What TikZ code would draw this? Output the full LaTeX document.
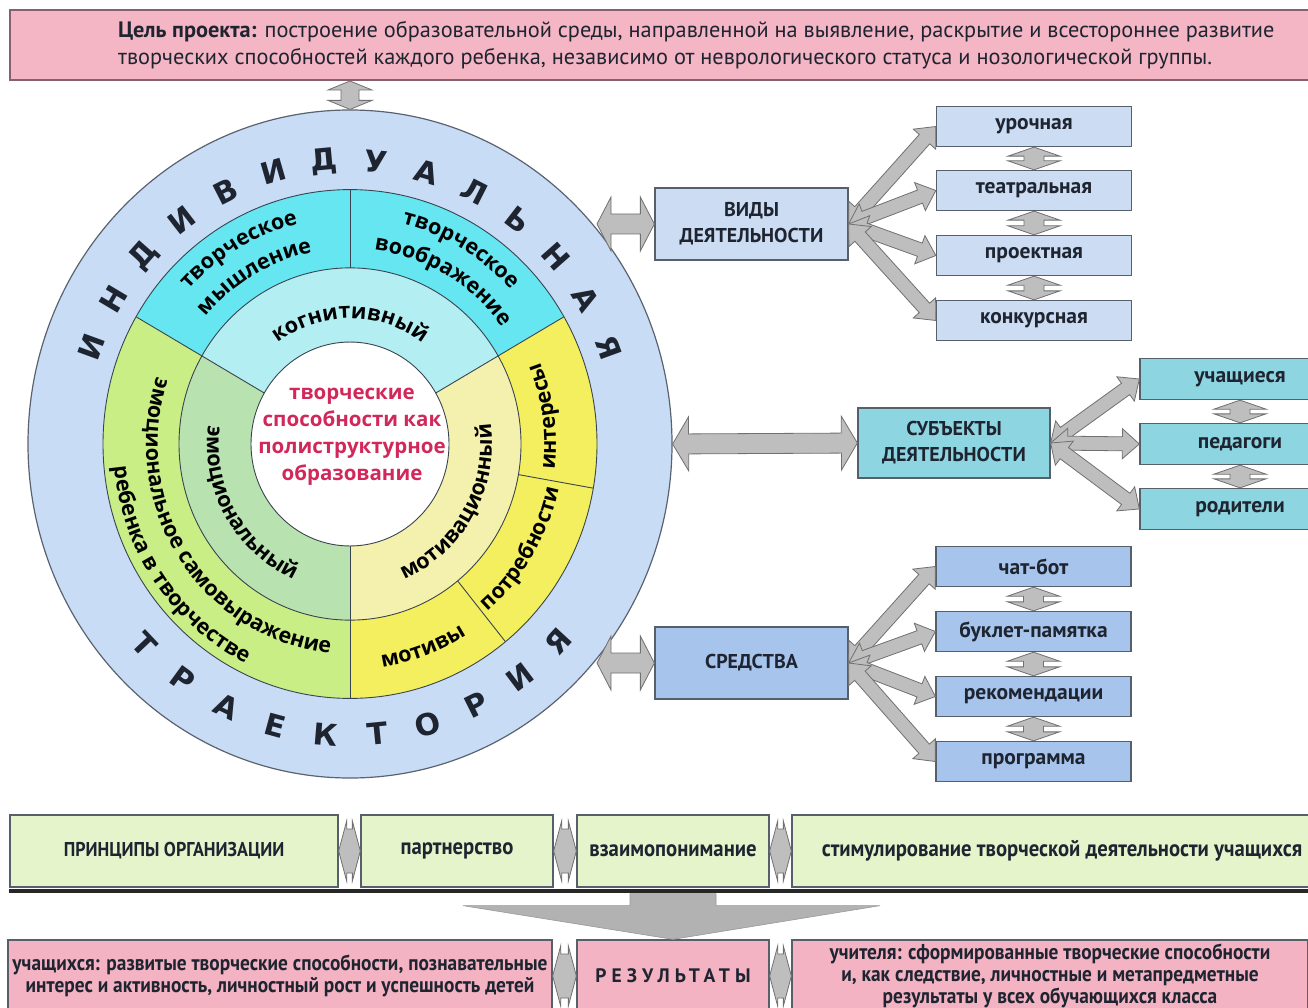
\documentclass[tikz,border=0pt]{standalone}
\usepackage{fontspec}
\setmainfont{PT Sans}
\newfontfamily\ptsans{PT Sans}
\newfontfamily\ptcond{PT Sans}[FakeStretch=0.9]
\newfontfamily\ptspaced{PT Sans}[LetterSpace=26]
\newfontfamily\osans{Open Sans}
\newfontfamily\djv{DejaVu Sans}
\usetikzlibrary{calc,shapes.geometric,decorations.text}
\definecolor{outerblue}{HTML}{C8DDF5}
\definecolor{cyanO}{HTML}{66E6F0}
\definecolor{cyanI}{HTML}{B3EEF3}
\definecolor{greenO}{HTML}{C9EE86}
\definecolor{greenI}{HTML}{B8E3B0}
\definecolor{yelO}{HTML}{F4EF5E}
\definecolor{yelI}{HTML}{F4F1AE}
\definecolor{ringedge}{HTML}{3A4450}
\definecolor{circedge}{HTML}{5A6270}
\definecolor{vidfill}{HTML}{CCDCF3}
\definecolor{subjfill}{HTML}{8ED5E2}
\definecolor{sredfill}{HTML}{A6C4EC}
\definecolor{princfill}{HTML}{E6F4CB}
\definecolor{pinkfill}{HTML}{F3B3C3}
\definecolor{banfill}{HTML}{F4B5C4}
\definecolor{banedge}{HTML}{86606B}
\definecolor{boxedge}{HTML}{56606B}
\definecolor{arrfill}{HTML}{BEBEBE}
\definecolor{arredge}{HTML}{707070}
\definecolor{txt}{HTML}{1E2430}
\definecolor{coretxt}{HTML}{D2275A}
\tikzset{
  arr/.style={fill=arrfill, draw=arredge, line width=0.8pt, line join=miter},
  box/.style={draw=boxedge, line width=1.3pt, inner sep=0pt, align=center, text=txt},
  mainbox/.style={box, minimum width=193pt, minimum height=72pt, font=\ptsans\bfseries\fontsize{20}{26}\selectfont},
  subbox/.style={box, minimum width=195pt, minimum height=40pt, font=\ptsans\bfseries\fontsize{21.5}{22}\selectfont},
  rowbox/.style={box, fill=princfill, minimum height=72pt, font=\ptcond\bfseries\fontsize{23}{24}\selectfont},
  resbox/.style={box, fill=pinkfill, minimum height=72pt, font=\ptcond\bfseries\fontsize{21.5}{22}\selectfont},
  ring/.style={draw=ringedge, line width=0.9pt},
  bigl/.style={font=\djv\bfseries\fontsize{30}{30}\selectfont, text=txt, inner sep=0pt},
  arctext/.style={decorate, decoration={text along path, text align=center, text={#1}}}
}
\newcommand\dblarr[5]{%
  \path (#1) coordinate (dA) (#2) coordinate (dB);
  \path ($(dA)!#3!(dB)$) coordinate (dA1) ($(dB)!#3!(dA)$) coordinate (dB1);
  \filldraw[arr] (dA) -- ($(dA1)!#4!90:(dB)$) -- ($(dA1)!#5!90:(dB)$)
    -- ($(dB1)!#5!-90:(dA)$) -- ($(dB1)!#4!-90:(dA)$) -- (dB)
    -- ($(dB1)!#4!90:(dA)$) -- ($(dB1)!#5!90:(dA)$)
    -- ($(dA1)!#5!-90:(dB)$) -- ($(dA1)!#4!-90:(dB)$) -- cycle;}
\newcommand\ringsect[5]{\fill[#1] (#2:#5) arc[start angle=#2, end angle=#3, radius=#5] -- (#3:#4) arc[start angle=#3, end angle=#2, radius=#4] -- cycle;}
\newcommand\rfont{\osans\bfseries\fontsize{21.5}{24}\selectfont}
\begin{document}
\begin{tikzpicture}[x=1pt,y=-1pt]
\useasboundingbox (0,0) rectangle (1308,1008);
\clip (0,0) rectangle (1308,1008);
\fill[white] (0,0) rectangle (1308,1008);

% banner
\node[draw=banedge, line width=2pt, fill=banfill, minimum width=1305pt, minimum height=70pt, inner sep=0pt] (banner) at (662.5,45) {};
\node[anchor=west, align=left, inner sep=0pt, text=txt, font=\ptsans\fontsize{22.3}{27}\selectfont] (bantext) at (118,45)
 {\textbf{Цель проекта:} построение образовательной среды, направленной на выявление, раскрытие и всестороннее развитие\\
  творческих способностей каждого ребенка, независимо от неврологического статуса и нозологической группы.};

% outer circle
\node[ellipse, draw=circedge, line width=1.2pt, fill=outerblue, minimum width=644pt, minimum height=668pt, inner sep=0pt] (outer) at (350,444) {};

\begin{scope}[shift={(350,444)}, x=1pt, y=1.03pt]
  \ringsect{cyanO}{30}{150}{171}{247}
  \ringsect{greenO}{150}{270}{171}{247}
  \ringsect{yelO}{270}{390}{171}{247}
  \ringsect{cyanI}{30}{150}{99}{171}
  \ringsect{greenI}{150}{270}{99}{171}
  \ringsect{yelI}{270}{390}{99}{171}
  \fill[white] (0,0) circle[radius=99];
  \draw[ring] (0,0) circle[radius=247];
  \draw[ring] (0,0) circle[radius=171];
  \draw[ring] (0,0) circle[radius=99];
  \foreach \a in {30,150,270} \draw[ring] (\a:99) -- (\a:247);
  \foreach \a in {90,350,309} \draw[ring] (\a:171) -- (\a:247);
  % texts on arcs (clockwise, tops outward)
  \path[arctext={|\rfont|творческое}] (170:220) arc[start angle=170, end angle=70, radius=220];
  \path[arctext={|\rfont|мышление}] (170:190) arc[start angle=170, end angle=70, radius=190];
  \path[arctext={|\rfont|творческое}] (110:220) arc[start angle=110, end angle=10, radius=220];
  \path[arctext={|\rfont|воображение}] (110:190) arc[start angle=110, end angle=10, radius=190];
  \path[arctext={|\rfont|когнитивный}] (150:122) arc[start angle=150, end angle=30, radius=122];
  % counterclockwise, tops inward
  \path[arctext={|\rfont|эмоциональный}] (150:143) arc[start angle=150, end angle=270, radius=143];
  \path[arctext={|\rfont|мотивационный}] (-90:142) arc[start angle=-90, end angle=30, radius=142];
  \path[arctext={|\rfont|эмоциональное самовыражение}] (150:204) arc[start angle=150, end angle=276, radius=204];
  \path[arctext={|\rfont|ребенка в творчестве}] (155:237) arc[start angle=155, end angle=275, radius=237];
  \path[arctext={|\rfont|интересы}] (-42:206) arc[start angle=-42, end angle=58, radius=206];
  \path[arctext={|\rfont|потребности}] (-81:213) arc[start angle=-81, end angle=19, radius=213];
  \path[arctext={|\rfont|мотивы}] (-120:219) arc[start angle=-120, end angle=-20, radius=219];
  % big letters
  \foreach \ch [count=\i from 0] in {И,Н,Д,И,В,И,Д,У,А,Л,Ь,Н,А,Я} {
    \pgfmathsetmacro\ang{160-\i*10.77}
    \node[bigl, rotate=\ang-90] (top\i) at (\ang:275) {\ch};
  }
  \foreach \ch [count=\i from 0] in {Т,Р,А,Е,К,Т,О,Р,И,Я} {
    \pgfmathsetmacro\ang{223.4+\i*10.44}
    \node[bigl, rotate=\ang+90] (bot\i) at (\ang:283) {\ch};
  }
\end{scope}

\node[align=center, inner sep=0pt, text=coretxt, font=\osans\bfseries\fontsize{20.5}{27}\selectfont] (core) at (352,437)
  {творческие\\способности как\\полиструктурное\\образование};

% right side: types of activity
\node[mainbox, fill=vidfill] (vid) at (751.5,224) {ВИДЫ\\ДЕЯТЕЛЬНОСТИ};
\node[subbox, fill=vidfill] (v1) at (1034,126.5) {урочная};
\node[subbox, fill=vidfill] (v2) at (1034,190.5) {театральная};
\node[subbox, fill=vidfill] (v3) at (1034,255.5) {проектная};
\node[subbox, fill=vidfill] (v4) at (1034,320.5) {конкурсная};

% subjects
\node[mainbox, fill=subjfill, minimum width=192pt, minimum height=70pt] (subj) at (954,443) {СУБЪЕКТЫ\\ДЕЯТЕЛЬНОСТИ};
\node[subbox, fill=subjfill, minimum width=200pt, minimum height=41pt] (uch) at (1240,379) {учащиеся};
\node[subbox, fill=subjfill, minimum width=200pt, minimum height=41pt] (ped) at (1240,444) {педагоги};
\node[subbox, fill=subjfill, minimum width=200pt, minimum height=41pt] (rod) at (1240,509) {родители};

% means
\node[mainbox, fill=sredfill] (sred) at (751.5,663) {СРЕДСТВА};
\node[subbox, fill=sredfill] (m1) at (1033.5,566.5) {чат-бот};
\node[subbox, fill=sredfill] (m2) at (1033.5,631.5) {буклет-памятка};
\node[subbox, fill=sredfill] (m3) at (1033.5,696.5) {рекомендации};
\node[subbox, fill=sredfill] (m4) at (1033.5,761.5) {программа};

% bottom rows
\node[rowbox, minimum width=328pt, font=\ptcond\bfseries\fontsize{20}{24}\selectfont] (prin) at (174,851) {ПРИНЦИПЫ ОРГАНИЗАЦИИ};
\node[rowbox, minimum width=192pt] (part) at (457,851) {партнерство};
\node[rowbox, minimum width=192pt] (vzai) at (673,851) {взаимопонимание};
\node[rowbox, minimum width=540pt] (stim) at (1062,851) {стимулирование творческой деятельности учащихся};
\draw[line width=4pt, draw=black!85] ($(prin.south west)+(0,3)$) -- ($(stim.south east)+(0,3)$);

\node[resbox, minimum width=544pt] (res1) at (280,976) {учащихся: развитые творческие способности, познавательные\\интерес и активность, личностный рост и успешность детей};
\node[resbox, minimum width=192pt, font=\ptspaced\bfseries\fontsize{19.5}{22}\selectfont] (res2) at (673,976) {РЕЗУЛЬТАТЫ};
\node[resbox, minimum width=516pt] (res3) at (1050,976) {учителя: сформированные творческие способности\\и, как следствие, личностные и метапредметные\\результаты у всех обучающихся класса};

% big down arrow
\filldraw[fill=black!30, draw=black!40, line width=0.6pt]
  ($(vzai.south)+(-43,6)$) -- ($(vzai.south)+(43,6)$) -- ($(vzai.south)+(43,18)$) -- ($(vzai.south)+(207,18)$)
  -- (res2.north) -- ($(vzai.south)+(-210,18)$) -- ($(vzai.south)+(-43,18)$) -- cycle;

% connectors
\coordinate (bt) at (outer.north |- banner.south);
\dblarr{bt}{outer.north}{9pt}{22pt}{9pt}
\coordinate (cv) at (597,224);
\coordinate (cs) at (597,663);
\dblarr{cv}{vid.west}{14pt}{27pt}{10pt}
\dblarr{outer.east}{subj.west}{16pt}{27pt}{10pt}
\dblarr{cs}{sred.west}{14pt}{27pt}{10pt}

\foreach \t in {v1,v2,v3,v4} {\dblarr{vid.east}{\t.west}{17pt}{15pt}{7pt}}
\foreach \t in {uch,ped,rod} {\dblarr{subj.east}{\t.west}{17pt}{15pt}{7pt}}
\foreach \t in {m1,m2,m3,m4} {\dblarr{sred.east}{\t.west}{17pt}{15pt}{7pt}}

\dblarr{v1.south}{v2.north}{9pt}{26pt}{10pt}
\dblarr{v2.south}{v3.north}{9pt}{26pt}{10pt}
\dblarr{v3.south}{v4.north}{9pt}{26pt}{10pt}
\dblarr{uch.south}{ped.north}{9pt}{26pt}{10pt}
\dblarr{ped.south}{rod.north}{9pt}{26pt}{10pt}
\dblarr{m1.south}{m2.north}{9pt}{26pt}{10pt}
\dblarr{m2.south}{m3.north}{9pt}{26pt}{10pt}
\dblarr{m3.south}{m4.north}{9pt}{26pt}{10pt}

\dblarr{prin.east}{part.west}{8pt}{30pt}{22pt}
\dblarr{part.east}{vzai.west}{8pt}{30pt}{22pt}
\dblarr{vzai.east}{stim.west}{8pt}{30pt}{22pt}
\dblarr{res1.east}{res2.west}{8pt}{30pt}{22pt}
\dblarr{res2.east}{res3.west}{8pt}{30pt}{22pt}
\end{tikzpicture}
\end{document}
